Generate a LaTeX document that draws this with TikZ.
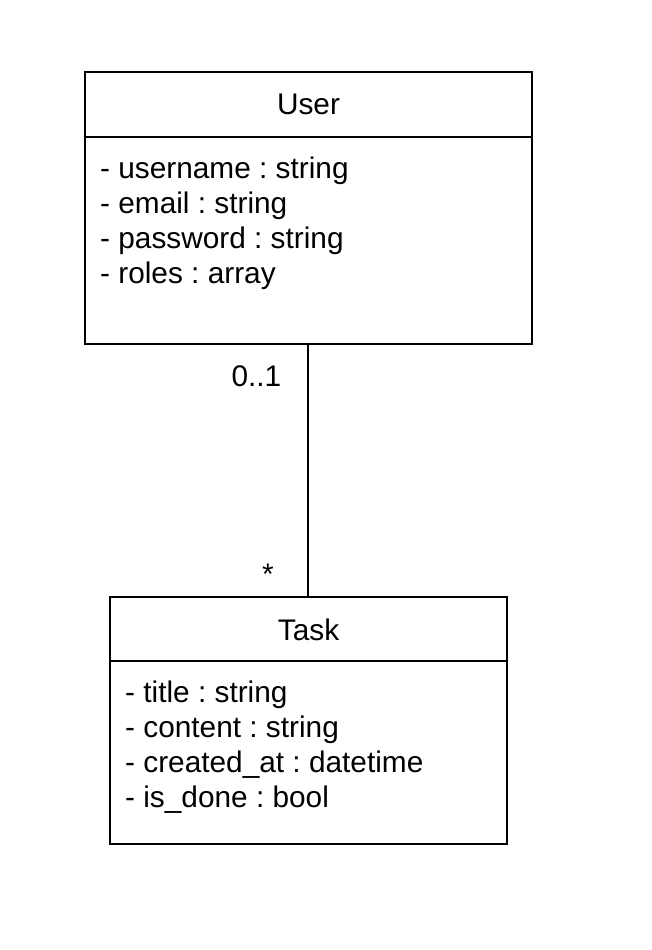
\documentclass[tikz,border=0pt]{standalone}
\usepackage{fontspec}
\setmainfont{Liberation Sans}
\usetikzlibrary{positioning}
\frenchspacing
\tikzset{
  classbox/.style={draw, line width=1.3pt, inner sep=0pt},
  members/.style={anchor=base west, align=left, inner sep=0pt, font=\fontsize{29.8}{35}\selectfont},
  cname/.style={anchor=base, inner sep=0pt, font=\fontsize{29.8}{35}\selectfont}
}

\begin{document}
\begin{tikzpicture}[x=1pt,y=-1pt]
  \useasboundingbox (0,0) rectangle (652,950);
  % classes
  \node[classbox, minimum width=447pt, minimum height=272pt] (user) at (308.5,208) {};
  \node[classbox, minimum width=397pt, minimum height=247pt] (task) at (308.5,720.5) {};
  \draw[line width=1.3pt] (user.west |- 0,137) -- (user.east |- 0,137);
  \draw[line width=1.3pt] (task.west |- 0,661) -- (task.east |- 0,661);
  \node[cname] (userName) at (308.5,114) {User};
  \node[cname] (taskName) at (308.5,640) {Task};
  % base of a multi-line node is its last line
  \node[members] (userAttr) at (100,283) {- username : string\\- email : string\\- password : string\\- roles : array};
  \node[members] (taskAttr) at (125,807) {- title : string\\- content : string\\- created\_at : datetime\\- is\_done : bool};
  % association
  \draw[line width=1.4pt]
	([xshift=-0.5pt]user.south) -- node [pos=0, cname, anchor=base east, xshift=-26pt, yshift=-42pt] {0..1}
	                node [pos=1, cname, xshift=-40pt, yshift=12pt] {*} ([xshift=-0.5pt]task.north);
\end{tikzpicture}
\end{document}
